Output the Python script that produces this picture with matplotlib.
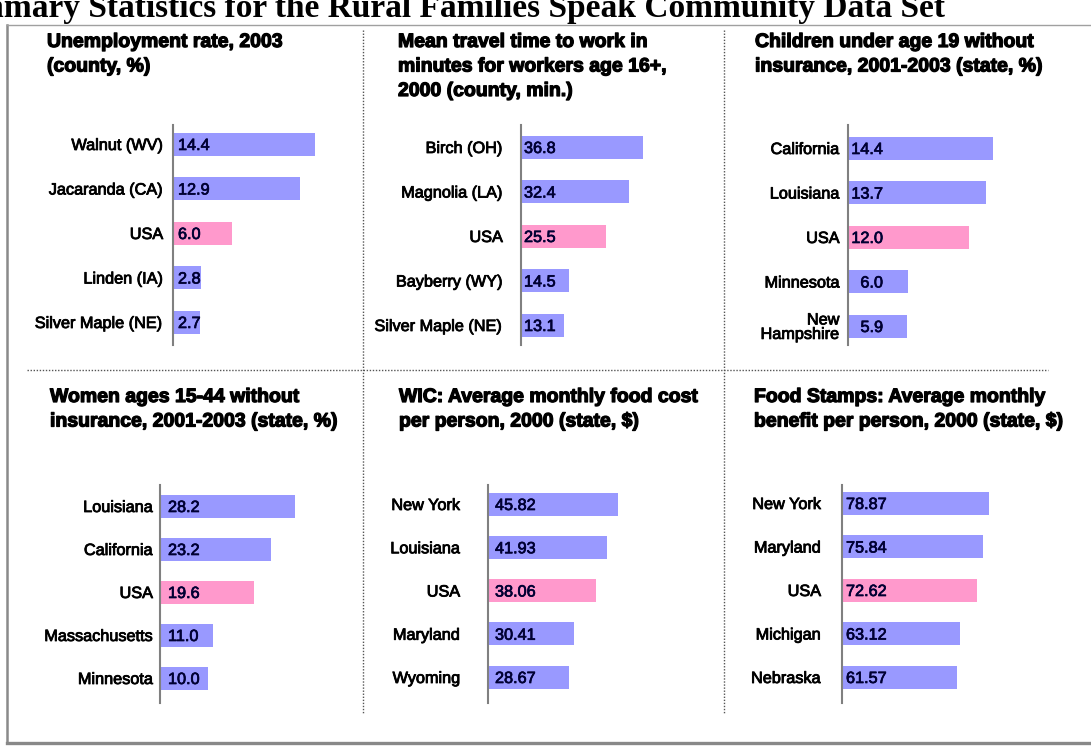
import matplotlib
matplotlib.use("Agg")
import matplotlib.pyplot as plt
from matplotlib.lines import Line2D
import matplotlib.patheffects as pe

W, H = 1091, 746
fig = plt.figure(figsize=(W / 100, H / 100), dpi=100)
fig.patch.set_facecolor("white")

BLUE = "#9999FF"
PINK = "#FF99CC"
SANS = "Liberation Sans"

# ---------------- data ----------------
title_main = "Summary Statistics for the Rural Families Speak Community Data Set"

p1_title = ["Unemployment rate, 2003", "(county, %)"]
p1_labels = ["Walnut (WV)", "Jacaranda (CA)", "USA", "Linden (IA)", "Silver Maple (NE)"]
p1_values = [14.4, 12.9, 6.0, 2.8, 2.7]
p1_text = ["14.4", "12.9", "6.0", "2.8", "2.7"]

p2_title = ["Mean travel time to work in", "minutes for workers age 16+,", "2000 (county, min.)"]
p2_labels = ["Birch (OH)", "Magnolia (LA)", "USA", "Bayberry (WY)", "Silver Maple (NE)"]
p2_values = [36.8, 32.4, 25.5, 14.5, 13.1]
p2_text = ["36.8", "32.4", "25.5", "14.5", "13.1"]

p3_title = ["Children under age 19 without", "insurance, 2001-2003 (state, %)"]
p3_labels = ["California", "Louisiana", "USA", "Minnesota", "New\nHampshire"]
p3_values = [14.4, 13.7, 12.0, 6.0, 5.9]
p3_text = ["14.4", "13.7", "12.0", "6.0", "5.9"]

p4_title = ["Women ages 15-44 without", "insurance, 2001-2003 (state, %)"]
p4_labels = ["Louisiana", "California", "USA", "Massachusetts", "Minnesota"]
p4_values = [28.2, 23.2, 19.6, 11.0, 10.0]
p4_text = ["28.2", "23.2", "19.6", "11.0", "10.0"]

p5_title = ["WIC: Average monthly food cost", "per person, 2000 (state, $)"]
p5_labels = ["New York", "Louisiana", "USA", "Maryland", "Wyoming"]
p5_values = [45.82, 41.93, 38.06, 30.41, 28.67]
p5_text = ["45.82", "41.93", "38.06", "30.41", "28.67"]

p6_title = ["Food Stamps: Average monthly", "benefit per person, 2000 (state, $)"]
p6_labels = ["New York", "Maryland", "USA", "Michigan", "Nebraska"]
p6_values = [78.87, 75.84, 72.62, 63.12, 61.57]
p6_text = ["78.87", "75.84", "72.62", "63.12", "61.57"]

highlight = "USA"

HEAVY = [pe.withStroke(linewidth=0.6, foreground="black")]
HEAVY_V = [pe.withStroke(linewidth=0.5, foreground="#000033")]
HEAVY_T = [pe.withStroke(linewidth=0.9, foreground="black")]


def fx(x):
    return x / W


def fy(y):
    return 1 - y / H


# ---------------- main title (cut off at top in the original) ----------------
fig.text(fx(945), fy(17), title_main, ha="right", va="baseline",
         fontsize=24, fontweight="bold", family="Liberation Serif", color="black")

# ---------------- frame ----------------
fig.add_artist(Line2D([fx(7), fx(7)], [fy(25), fy(743)], color="#8a8a8a", lw=1.8))
fig.add_artist(Line2D([fx(7), fx(1091)], [fy(25), fy(25)], color="#a0a0a0", lw=1.0))
fig.add_artist(Line2D([fx(7), fx(1091)], [fy(743), fy(743)], color="#888888", lw=2.4))

# dotted dividers
dot = dict(color="#555555", lw=1.0, linestyle=(0, (1, 1.2)))
fig.add_artist(Line2D([fx(363), fx(363)], [fy(30), fy(713)], **dot))
fig.add_artist(Line2D([fx(724), fx(724)], [fy(30), fy(713)], **dot))
fig.add_artist(Line2D([fx(27), fx(1048)], [fy(370), fy(370)], **dot))


def panel(title_lines, tx, tbase, labels, values, texts, axis_x, y_top, y_bot,
          c_top, c_bot, scale, lab_gap, val_off, val_align="left", val_right=None):
    for i, line in enumerate(title_lines):
        fig.text(fx(tx), fy(tbase + i * 24.5), line, ha="left", va="baseline",
                 fontsize=14, fontweight="bold", family=SANS, color="black",
                 path_effects=HEAVY_T)
    width_px = 200
    ax = fig.add_axes([fx(axis_x), fy(y_bot), width_px / W, (y_bot - y_top) / H])
    n = len(values)
    spacing = (c_bot - c_top) / (n - 1)
    top_lim = -(c_top - y_top) / spacing
    bot_lim = (n - 1) + (y_bot - c_bot) / spacing
    ax.set_ylim(bot_lim, top_lim)
    ax.set_xlim(0, width_px / scale)
    ypos = list(range(n))
    colors = [PINK if l == highlight else BLUE for l in labels]
    ax.barh(ypos, values, height=23 / spacing, color=colors, edgecolor="none", zorder=1)
    for s in ("top", "right", "bottom"):
        ax.spines[s].set_visible(False)
    ax.spines["left"].set_color("#808080")
    ax.spines["left"].set_linewidth(1.5)
    ax.spines["left"].set_zorder(3)
    ax.set_xticks([])
    ax.set_yticks(ypos)
    ax.set_yticklabels(labels, fontsize=11.7, family=SANS, color="black",
                       linespacing=0.95, multialignment="right")
    for tl in ax.get_yticklabels():
        tl.set_path_effects(HEAVY)
    ax.tick_params(axis="y", length=0, pad=lab_gap)
    ax.patch.set_alpha(0)
    for y, t in zip(ypos, texts):
        if val_align == "left":
            off, ha = val_off, "left"
        else:
            off, ha = val_right, "right"
        ax.annotate(t, xy=(0, y), xytext=(off, 0), textcoords="offset pixels",
                    ha=ha, va="center_baseline", fontsize=11.7, family=SANS,
                    color="#000033", zorder=4, path_effects=HEAVY_V)
    return ax


# top row
panel(p1_title, 47, 47, p1_labels, p1_values, p1_text, 173, 125, 345, 144, 322,
      9.86, 7, 5)
panel(p2_title, 398, 47, p2_labels, p2_values, p2_text, 521, 125, 345, 147, 325,
      3.32, 13, 3)
panel(p3_title, 755, 47, p3_labels, p3_values, p3_text, 848, 125, 345, 148, 326,
      10.07, 6, 5, val_align="right", val_right=35)
# bottom row
panel(p4_title, 50, 402, p4_labels, p4_values, p4_text, 160, 485, 703, 506, 678,
      4.79, 5, 8)
panel(p5_title, 399, 402, p5_labels, p5_values, p5_text, 488, 485, 703, 504, 677,
      2.837, 20, 7)
panel(p6_title, 754, 402, p6_labels, p6_values, p6_text, 842, 485, 703, 503, 677,
      1.864, 15, 4)

fig.savefig("out.png", dpi=100, facecolor="white")
